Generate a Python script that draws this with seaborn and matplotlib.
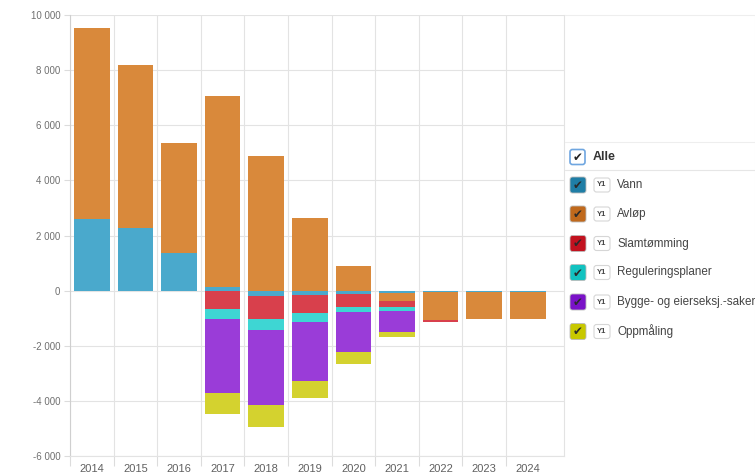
import numpy as np
import pandas as pd
import matplotlib
matplotlib.use("Agg")
import matplotlib.pyplot as plt
import seaborn as sns
from matplotlib.patches import FancyBboxPatch
from matplotlib.ticker import FuncFormatter

# ------------------------------
#   Data
# ------------------------------
years = [str(y) for y in range(2014, 2025)]
series_names = ["Vann", "Avløp", "Slamtømming", "Reguleringsplaner",
                "Bygge- og eierseksj.-saker", "Oppmåling"]

vann = [2600, 2280, 1380, 150, -190, -160, -120, -100, -60, -30, -30]
avlop = [6940, 5910, 3970, 6930, 4900, 2630, 900, -260, -1000, -1000, -1000]
slam = [0, 0, 0, -680, -840, -660, -460, -220, -70, 0, 0]
regulering = [0, 0, 0, -360, -400, -300, -210, -150, 0, 0, 0]
bygge = [0, 0, 0, -2660, -2730, -2150, -1430, -760, 0, 0, 0]
oppmaling = [0, 0, 0, -780, -800, -610, -430, -200, 0, 0, 0]

bar_colors = ["#4aa9cc", "#d9893b", "#d8404c", "#3ed6d3", "#9a3cd8", "#d4d22f"]
box_colors = ["#1f7ea6", "#c0691c", "#c2121f", "#12c2c0", "#7a12c8", "#c8c800"]

values = np.array([vann, avlop, slam, regulering, bygge, oppmaling], dtype=float)

# ------------------------------
#   Figure
# ------------------------------
sns.set_theme(style="white")
plt.rcParams["font.family"] = ["Liberation Sans", "DejaVu Sans"]

fig = plt.figure(figsize=(7.55, 4.75), dpi=100)
ax = fig.add_axes([70 / 755, 1 - 456 / 475, (564 - 70) / 755, (456 - 15.2) / 475])

# positive and negative parts are stacked separately, first series nearest zero
pos = np.clip(values, 0, None)
neg = np.clip(values, None, 0)
pos_cum = np.cumsum(pos, axis=0)
neg_cum = np.cumsum(neg, axis=0)

for cum in (pos_cum, neg_cum):
    for k in range(len(series_names) - 1, -1, -1):
        df = pd.DataFrame({"year": years, "value": cum[k]})
        sns.barplot(data=df, x="year", y="value", color=bar_colors[k],
                    saturation=1, width=0.815, edgecolor="none",
                    errorbar=None, ax=ax)

# ------------------------------
#   Axes styling
# ------------------------------
grid_c = "#e3e3e3"
ax.set_ylim(-6000, 10000)
ax.set_xlim(-0.5, 10.83)
ax.set_yticks(np.arange(-6000, 10001, 2000))
ax.yaxis.set_major_formatter(FuncFormatter(lambda v, p: f"{int(v):,}".replace(",", " ")))
ax.set_xticks(range(len(years)))
ax.set_xticklabels(years)
ax.set_xticks(np.arange(-0.5, 10, 1), minor=True)
ax.set_xlabel("")
ax.set_ylabel("")

ax.grid(axis="y", color=grid_c, linewidth=0.8)
ax.grid(axis="x", which="minor", color=grid_c, linewidth=0.8)
ax.set_axisbelow(True)

ax.tick_params(axis="x", which="major", length=0, pad=6, labelsize=8, labelcolor="#606060")
ax.tick_params(axis="x", which="minor", length=7, color="#dcdcdc", width=0.8, bottom=True)
ax.tick_params(axis="y", length=4, color="#dcdcdc", width=0.8, pad=3,
               labelsize=7, labelcolor="#707070", left=True)

ax.spines["top"].set_visible(False)
ax.spines["left"].set_color("#cfcfcf")
ax.spines["right"].set_color(grid_c)
ax.spines["bottom"].set_color(grid_c)
for s in ax.spines.values():
    s.set_linewidth(0.8)

# ------------------------------
#   Legend panel (checkbox style)
# ------------------------------
lg = fig.add_axes([0, 0, 1, 1], facecolor="none")
lg.set_xlim(0, 755)
lg.set_ylim(475, 0)
lg.axis("off")

lg.plot([565, 755], [15, 15], color="#eeeeee", lw=0.8)
lg.plot([565, 755], [141.7, 141.7], color="#eeeeee", lw=0.8)
lg.plot([565, 755], [169.5, 169.5], color="#e6e6e6", lw=0.8)
lg.plot([754.5, 754.5], [15, 475], color="#eeeeee", lw=0.8)

# "Alle" row
lg.add_patch(FancyBboxPatch((570, 149.5), 15, 15, boxstyle="round,pad=0,rounding_size=2.5",
                            facecolor="white", edgecolor="#6fa6e0", lw=1.2))
lg.text(577.5, 157.5, "✔", ha="center", va="center", fontsize=8.5,
        color="#222222", family="DejaVu Sans")
lg.text(593, 157, "Alle", ha="left", va="center", fontsize=9,
        fontweight="bold", color="#333333")

row_y = [185, 214, 243.5, 272.5, 302, 331.5]
for name, col, y in zip(series_names, box_colors, row_y):
    lg.add_patch(FancyBboxPatch((570, y - 8), 16, 16, boxstyle="round,pad=0,rounding_size=2.5",
                                facecolor=col, edgecolor="#bbbbbb", lw=0.6))
    lg.text(578, y + 0.5, "✔", ha="center", va="center", fontsize=8.5,
            color="#2a2a2a", family="DejaVu Sans")
    lg.add_patch(FancyBboxPatch((594, y - 7), 16, 14, boxstyle="round,pad=0,rounding_size=2.5",
                                facecolor="white", edgecolor="#d6d6d6", lw=0.8))
    lg.text(602, y, "Y1", ha="center", va="center", fontsize=5.5,
            fontweight="bold", color="#444444")
    lg.text(617, y, name, ha="left", va="center", fontsize=8.4, color="#444444")

fig.savefig("out.png", dpi=100)
